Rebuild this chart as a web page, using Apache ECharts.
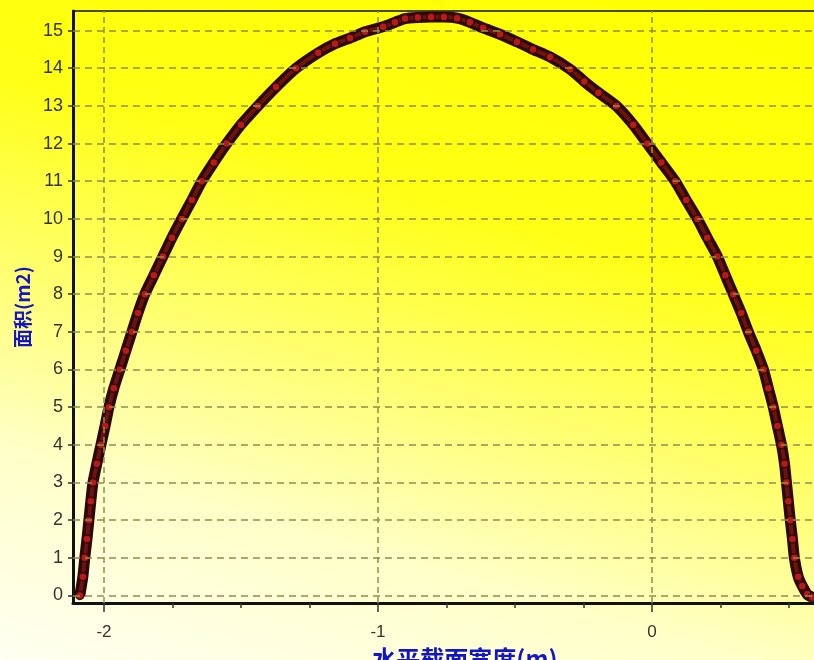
<!DOCTYPE html>
<html>
<head>
<meta charset="utf-8">
<script src="https://cdn.jsdelivr.net/npm/echarts@6/dist/echarts.min.js"></script>
<style>
  html, body { margin: 0; padding: 0; }
  #chart {
    width: 814px;
    height: 660px;
    background: linear-gradient(196deg, #ffff00 0%, #ffff14 34%, #ffff70 56%, #ffffc8 76%, #fffff2 100%);
  }
</style>
</head>
<body>
<div id="chart"></div>
<script>
// 水平截面宽度 (m), left foot -> top -> right foot
const widthValues = [
  -2.088, -2.077, -2.070, -2.062, -2.055, -2.048, -2.040, -2.026, -2.011, -1.996,
  -1.982, -1.964, -1.942, -1.920, -1.898, -1.876, -1.851, -1.818, -1.785, -1.752,
  -1.716, -1.679, -1.643, -1.599, -1.552, -1.500, -1.438, -1.372, -1.299, -1.218,
  -1.157, -1.102, -1.047, -0.981, -0.938, -0.901, -0.854, -0.806, -0.759, -0.711,
  -0.664, -0.616, -0.554, -0.492, -0.434, -0.372, -0.298, -0.247, -0.195, -0.130,
  -0.068, -0.017, 0.034, 0.085, 0.125, 0.166, 0.202, 0.239, 0.268, 0.297,
  0.326, 0.352, 0.381, 0.407, 0.425, 0.443, 0.458, 0.473, 0.484, 0.491,
  0.498, 0.505, 0.513, 0.520, 0.534, 0.549, 0.567, 0.585
];
// 面积 (m2)
const areaValues = [
  0, 0.5, 1, 1.5, 2, 2.5, 3, 3.5, 4, 4.5,
  5, 5.5, 6, 6.5, 7, 7.5, 8, 8.5, 9, 9.5,
  10, 10.5, 11, 11.5, 12, 12.5, 13, 13.5, 14, 14.41,
  14.65, 14.80, 14.97, 15.10, 15.22, 15.32, 15.35, 15.36, 15.36, 15.33,
  15.22, 15.07, 14.90, 14.70, 14.50, 14.30, 13.97, 13.65, 13.35, 13.0,
  12.5, 12, 11.5, 11, 10.5, 10, 9.5, 9, 8.5, 8,
  7.5, 7, 6.5, 6, 5.5, 5, 4.5, 4, 3.5, 3,
  2.5, 2, 1.5, 1, 0.5, 0.25, 0.03, -0.05
];

const yTicks = [0, 1, 2, 3, 4, 5, 6, 7, 8, 9, 10, 11, 12, 13, 14, 15];
const xMajorTicks = [-2, -1, 0];
const xMinorTicks = [-2, -1.75, -1.5, -1.25, -1, -0.75, -0.5, -0.25, 0, 0.25, 0.5];

const xMin = -2.113;
const xMax = 0.65;
const yMin = -0.2;
const yMax = 15.52;

const points = widthValues.map((x, i) => [x, areaValues[i]]);

const chart = echarts.init(document.getElementById('chart'));

const gridLineStyle = {
  color: '#8e8e4c',
  width: 1.5,
  type: [7, 5],
};

const option = {
  animation: false,
  backgroundColor: 'transparent',
  grid: {
    left: 73,
    top: 11,
    width: 757,
    height: 592,
    outerBoundsMode: 'none',
    containLabel: false,
    show: true,
    borderColor: '#4a4a1c',
    borderWidth: 2,
    backgroundColor: 'transparent',
  },
  xAxis: [
    {
      type: 'value',
      min: xMin,
      max: xMax,
      name: '水平截面宽度(m)',
      nameLocation: 'middle',
      nameGap: 44,
      nameTextStyle: {
        color: '#1515c8',
        fontSize: 24,
        fontWeight: 'bold',
        fontFamily: '"Noto Sans CJK SC", sans-serif',
        padding: [0, 0, 0, 27],
      },
      axisLine: { onZero: false, lineStyle: { color: '#111', width: 3 } },
      axisTick: {
        customValues: xMajorTicks,
        length: 9,
        lineStyle: { color: '#333', width: 1.5 },
      },
      axisLabel: {
        customValues: xMajorTicks,
        margin: 21,
        color: '#333',
        fontSize: 17,
        fontFamily: 'Arial, "Liberation Sans", sans-serif',
      },
      splitLine: { show: false },
    },
    {
      type: 'value',
      min: xMin,
      max: xMax,
      position: 'bottom',
      axisLine: { show: false, onZero: false },
      axisTick: {
        customValues: xMinorTicks,
        length: 5,
        lineStyle: { color: '#333', width: 1.5 },
      },
      axisLabel: { show: false },
      splitLine: { show: false },
    },
  ],
  yAxis: {
    type: 'value',
    min: yMin,
    max: yMax,
    name: '面积(m2)',
    nameLocation: 'middle',
    nameGap: 40,
    nameRotate: 90,
    nameTextStyle: {
      color: '#1515c8',
      fontSize: 19,
      fontWeight: 'bold',
      fontFamily: '"Noto Sans CJK SC", sans-serif',
    },
    axisLine: { onZero: false, lineStyle: { color: '#111', width: 3 } },
    axisTick: {
      customValues: yTicks,
      length: 5,
      lineStyle: { color: '#333', width: 1.5 },
    },
    axisLabel: {
      customValues: yTicks,
      margin: 10,
      color: '#333',
      fontSize: 18,
      fontFamily: 'Arial, "Liberation Sans", sans-serif',
    },
    splitLine: { show: false },
  },
  series: [
    {
      // dashed grid
      type: 'line',
      data: [],
      z: 1,
      silent: true,
      markLine: {
        silent: true,
        symbol: 'none',
        label: { show: false },
        lineStyle: gridLineStyle,
        data: [
          ...yTicks.map((v) => ({ yAxis: v })),
          ...xMajorTicks.map((v) => ({ xAxis: v, lineStyle: { type: [6, 4] } })),
        ],
      },
    },
    {
      // dark outer band
      type: 'line',
      data: points,
      z: 3,
      smooth: 0.2,
      symbol: 'none',
      lineStyle: { color: '#2c0808', width: 11 },
    },
    {
      type: 'line',
      data: points,
      z: 4,
      smooth: 0.2,
      symbol: 'circle',
      symbolSize: 8,
      lineStyle: { color: '#6e1212', width: 4 },
      itemStyle: {
        color: '#b81a1a',
        borderColor: '#3a0a0a',
        borderWidth: 1.5,
      },
    },
  ],
};

chart.setOption(option);
</script>
</body>
</html>
